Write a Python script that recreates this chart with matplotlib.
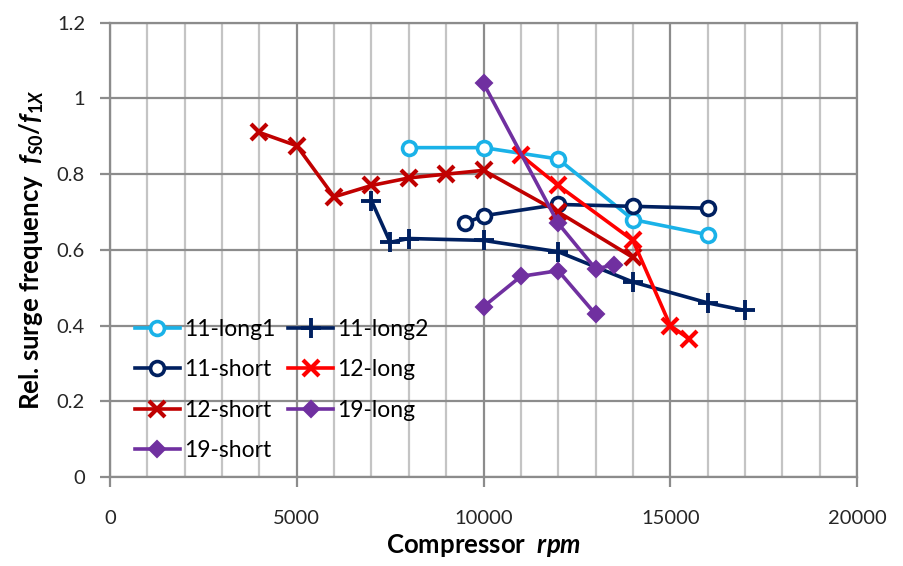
import matplotlib.pyplot as plt
from matplotlib.ticker import MultipleLocator

plt.rcParams['font.family'] = ['Lato', 'DejaVu Sans']
plt.rcParams['mathtext.fontset'] = 'custom'
plt.rcParams['mathtext.rm'] = 'Lato:bold'
plt.rcParams['mathtext.it'] = 'Lato:italic:bold'

# Data
long1_11_x = [8000, 10000, 12000, 14000, 16000]
long1_11_y = [0.87, 0.87, 0.84, 0.68, 0.64]

long2_11_x = [7000, 7500, 8000, 10000, 12000, 14000, 16000, 17000]
long2_11_y = [0.73, 0.62, 0.63, 0.625, 0.595, 0.515, 0.46, 0.44]

short_11_x = [9500, 10000, 12000, 14000, 16000]
short_11_y = [0.67, 0.69, 0.72, 0.715, 0.71]

long_12_x = [11000, 12000, 14000, 15000, 15500]
long_12_y = [0.85, 0.77, 0.625, 0.40, 0.365]

short_12_x = [4000, 5000, 6000, 7000, 8000, 9000, 10000, 12000, 14000]
short_12_y = [0.91, 0.875, 0.74, 0.77, 0.79, 0.80, 0.81, 0.70, 0.58]

long_19_x = [10000, 12000, 13000, 13500]
long_19_y = [1.04, 0.67, 0.55, 0.56]

short_19_x = [10000, 11000, 12000, 13000]
short_19_y = [0.45, 0.53, 0.545, 0.43]

fig = plt.figure(figsize=(9.04, 5.66), dpi=100)
ax = fig.add_axes([0.1217, 0.1572, 0.8263, 0.8027])

lw = 2.6
h1, = ax.plot(long1_11_x, long1_11_y, color='#1ab2e8', lw=lw, marker='o', ms=10,
              mfc='white', mew=2.6, label='11-long1')
h2, = ax.plot(long2_11_x, long2_11_y, color='#002060', lw=lw, marker='+', ms=14,
              mew=2.8, label='11-long2')
h3, = ax.plot(short_11_x, short_11_y, color='#002060', lw=lw, marker='o', ms=10,
              mfc='white', mew=2.6, label='11-short')
h5, = ax.plot(short_12_x, short_12_y, color='#c00000', lw=lw, marker='x', ms=11,
              mew=3, label='12-short')
h4, = ax.plot(long_12_x, long_12_y, color='#ff0000', lw=lw, marker='x', ms=11,
              mew=3, label='12-long')
h6, = ax.plot(long_19_x, long_19_y, color='#7030a0', lw=lw, marker='D', ms=8,
              mew=1.5, label='19-long')
h7, = ax.plot(short_19_x, short_19_y, color='#7030a0', lw=lw, marker='D', ms=8,
              mew=1.5, label='19-short')

ax.set_xlim(0, 20000)
ax.set_ylim(0, 1.2)
ax.xaxis.set_major_locator(MultipleLocator(5000))
ax.xaxis.set_minor_locator(MultipleLocator(1000))
ax.set_yticks([0, 0.2, 0.4, 0.6, 0.8, 1.0, 1.2])
ax.set_yticklabels(['0', '0.2', '0.4', '0.6', '0.8', '1', '1.2'])

ax.set_axisbelow(True)
ax.grid(which='major', axis='both', color='#8c8c8c', lw=1.6)
ax.grid(which='minor', axis='x', color='#c4c4c4', lw=1.6)
for s in ax.spines.values():
    s.set_color('#8c8c8c')
    s.set_linewidth(1.6)

ax.tick_params(which='major', length=7, width=1.6, color='#8c8c8c',
               labelsize=14.5, labelcolor='#262626')
ax.tick_params(which='minor', length=0)
ax.tick_params(axis='x', pad=17)
ax.tick_params(axis='y', pad=11)

ax.set_xlabel(r'Compressor  $rpm$', fontsize=18.5, fontweight='bold', labelpad=3)
ax.set_ylabel(r'Rel. surge frequency  $f_{S0}/f_{1X}$', fontsize=18.5,
              fontweight='bold', labelpad=8)

leg = ax.legend(handles=[h1, h3, h5, h7, h2, h4, h6], ncol=2, frameon=False,
                loc='lower left', bbox_to_anchor=(0.012, 0.0), fontsize=16.5,
                handlelength=1.95, labelspacing=0.84, columnspacing=0.55,
                handletextpad=0.2, borderaxespad=0.3)

fig.savefig('out.png', dpi=100)
